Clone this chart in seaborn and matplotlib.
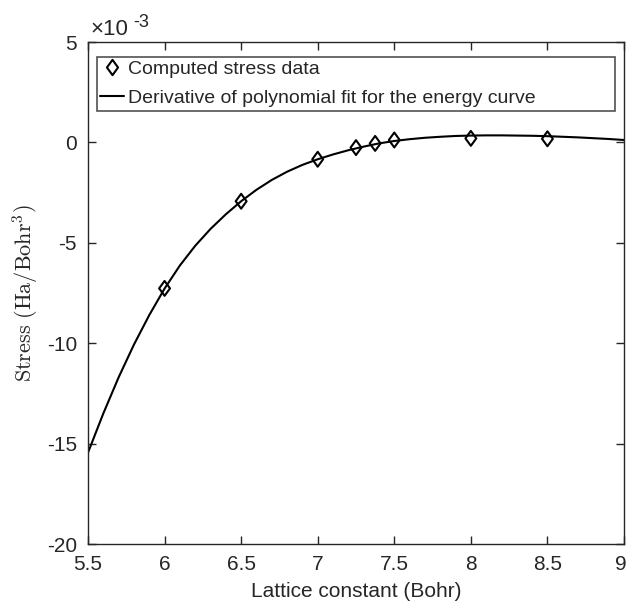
import matplotlib
matplotlib.use("Agg")
import matplotlib.pyplot as plt
import matplotlib.transforms as mtransforms
import seaborn as sns
from matplotlib.lines import Line2D
from matplotlib.path import Path

# Computed stress data (units of 1e-3 Ha/Bohr^3)
lattice = [6.0, 6.5, 7.0, 7.25, 7.375, 7.5, 8.0, 8.5]
stress = [-7.27, -2.93, -0.84, -0.26, -0.05, 0.12, 0.20, 0.18]

# Derivative of polynomial fit for the energy curve
fit_x = [5.5, 5.6, 5.7, 5.8, 5.9, 6.0, 6.1, 6.2, 6.3, 6.4, 6.5, 6.6, 6.7, 6.8, 6.9,
         7.0, 7.1, 7.2, 7.3, 7.4, 7.5, 7.6, 7.7, 7.8, 7.9, 8.0, 8.1, 8.2, 8.3, 8.4,
         8.5, 8.6, 8.7, 8.8, 8.9, 9.0]
fit_y = [-15.45, -13.50, -11.70, -10.07, -8.60, -7.28, -6.13, -5.15, -4.31, -3.58,
         -2.93, -2.36, -1.87, -1.46, -1.12, -0.84, -0.60, -0.39, -0.21, -0.05,
         0.07, 0.16, 0.23, 0.28, 0.32, 0.34, 0.35, 0.35, 0.34, 0.33,
         0.31, 0.28, 0.25, 0.21, 0.17, 0.12]

xticks = [5.5, 6, 6.5, 7, 7.5, 8, 8.5, 9]
xticklabels = ["5.5", "6", "6.5", "7", "7.5", "8", "8.5", "9"]
yticks = [-20, -15, -10, -5, 0, 5]
yticklabels = ["-20", "-15", "-10", "-5", "0", "5"]

sns.set_style("ticks")
plt.rcParams["font.family"] = ["Liberation Sans", "DejaVu Sans"]
plt.rcParams["mathtext.fontset"] = "cm"
plt.rcParams["axes.unicode_minus"] = False

diamond = Path([(-0.73, 0), (0, 1), (0.73, 0), (0, -1), (-0.73, 0)],
               [Path.MOVETO, Path.LINETO, Path.LINETO, Path.LINETO, Path.CLOSEPOLY])

fig = plt.figure(figsize=(6.28, 6.12), dpi=100)
ax = fig.add_axes([88/628, 1-544/612, 536/628, 502/612])

dark = "#262626"
sns.lineplot(x=fit_x, y=fit_y, ax=ax, color="black", linewidth=1.5, sort=False,
             label="_nolegend_")
sns.scatterplot(x=lattice, y=stress, ax=ax, marker=diamond, s=115, facecolor="none",
                edgecolor="black", linewidth=1.5, zorder=3, label="_nolegend_")

ax.set_xlim(5.5, 9)
ax.set_ylim(-20, 5)
ax.set_xticks(xticks)
ax.set_xticklabels(xticklabels)
ax.set_yticks(yticks)
ax.set_yticklabels(yticklabels)
ax.tick_params(direction="in", length=6, width=1, colors=dark, labelcolor=dark,
               labelsize=15, top=True, right=True, pad=8)
for sp in ax.spines.values():
    sp.set_visible(True)
    sp.set_color(dark)
    sp.set_linewidth(1)

# nudge the last x tick label slightly inside the figure
last = ax.get_xticklabels()[-1]
last.set_transform(last.get_transform() +
                   mtransforms.ScaledTranslation(-3/100, 0, fig.dpi_scale_trans))

ax.set_xlabel("Lattice constant (Bohr)", fontsize=15, color=dark, labelpad=6)
ax.set_ylabel(r"$\mathrm{Stress\ (Ha/Bohr^{3})}$", fontsize=16, color=dark, labelpad=4)

ax.text(0.004, 1.014, "\u00d710", transform=ax.transAxes,
        fontsize=16, color=dark, ha="left", va="baseline")
ax.text(0.084, 1.03, "-3", transform=ax.transAxes,
        fontsize=13, color=dark, ha="left", va="baseline")

handles = [
    Line2D([], [], marker=diamond, linestyle="none", markerfacecolor="none",
           markeredgecolor="black", markeredgewidth=1.5, markersize=11),
    Line2D([], [], color="black", linewidth=1.5),
]
labels = ["Computed stress data", "Derivative of polynomial fit for the energy curve"]
leg = ax.legend(handles, labels, loc="upper left",
                bbox_to_anchor=(0.0162, 0.9707 - 0.108, 0.9675, 0.108),
                mode="expand", fontsize=14, frameon=True, fancybox=False,
                edgecolor=dark, handlelength=1.25, handletextpad=0.2,
                borderpad=0.18, labelspacing=0.6, borderaxespad=0)
leg.get_frame().set_linewidth(1.2)
for t in leg.get_texts():
    t.set_color(dark)

fig.savefig("out.png", dpi=100)
